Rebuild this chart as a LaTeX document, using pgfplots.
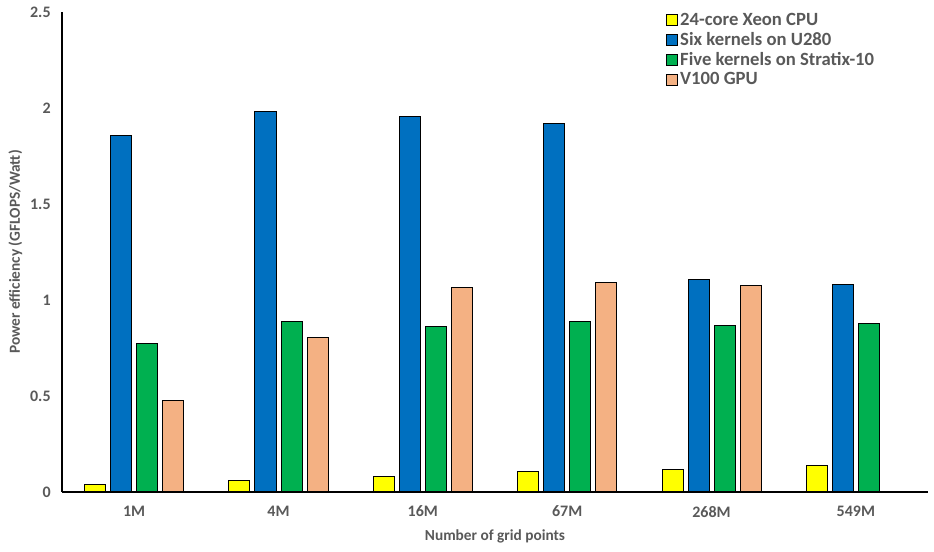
\documentclass[border=0pt]{standalone}
\usepackage{fontspec}
\setmainfont{Carlito}
\usepackage{pgfplots}
\pgfplotsset{compat=1.18}
\definecolor{txt}{HTML}{595959}
\definecolor{cyel}{HTML}{FFFF00}
\definecolor{cblu}{HTML}{0070C0}
\definecolor{cgrn}{HTML}{00B050}
\definecolor{cora}{HTML}{F4B183}
\begin{document}
\begin{tikzpicture}
\begin{axis}[
  name=ax,
  scale only axis,
  width=649.5pt, height=360pt,
  xmin=-0.5, xmax=5.5,
  ymin=0, ymax=2.5,
  ybar=3.75pt, bar width=15.75pt,
  axis x line=bottom, axis y line=left,
  axis line style={-, black, line width=0.9pt},
  xtick={0,1,2,3,4,5},
  xticklabels={1M,4M,16M,67M,268M,549M},
  ytick={0,0.5,1,1.5,2,2.5},
  yticklabels={0,0.5,1,1.5,2,2.5},
  major tick length=0pt,
  tick label style={font=\fontsize{12}{14}\selectfont\bfseries, text=txt},
  xticklabel style={yshift=-7pt},
  yticklabel style={xshift=-5pt},
  /pgf/number format/assume math mode=true,
  xlabel={Number of grid points},
  ylabel={Power efficiency (GFLOPS/Watt)},
  label style={font=\fontsize{11.5}{13}\selectfont\bfseries, text=txt},
  xlabel style={at={(axis description cs:0.5,0)}, anchor=center, yshift=-33pt},
  ylabel style={at={(axis description cs:0,0.5)}, anchor=center, yshift=35pt},
  legend style={draw=none, fill=none, at={(rel axis cs:0.692,1.01)}, anchor=north west,
    font=\fontsize{14}{15}\selectfont\bfseries, text=txt, row sep=-0.2pt,
    legend cell align=left,
    nodes={inner sep=2pt}},
  legend image code/.code={\draw[#1, line width=0.75pt] (0pt,-4.1pt) rectangle (8.25pt,4.1pt);},
  every axis plot/.append style={draw=black, line width=0.75pt},
]
\addplot[fill=cyel] coordinates {(0,0.040) (1,0.062) (2,0.082) (3,0.109) (4,0.115) (5,0.139)};
\addplot[fill=cblu] coordinates {(0,1.859) (1,1.983) (2,1.957) (3,1.920) (4,1.108) (5,1.082)};
\addplot[fill=cgrn] coordinates {(0,0.774) (1,0.889) (2,0.863) (3,0.889) (4,0.868) (5,0.879)};
\addplot[fill=cora] coordinates {(0,0.478) (1,0.806) (2,1.066) (3,1.092) (4,1.076)};
\legend{24-core Xeon CPU, Six kernels on U280, Five kernels on Stratix-10, V100 GPU}
\end{axis}
\pgfresetboundingbox
\useasboundingbox ([shift={(-46.5pt,-45pt)}]ax.south west) rectangle ([shift={(4.5pt,9pt)}]ax.north east);
\end{tikzpicture}
\end{document}
